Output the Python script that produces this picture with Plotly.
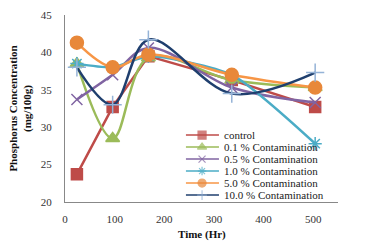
import plotly.graph_objects as go

time_hr = [24, 96, 168, 336, 504]
control = [23.7, 32.7, 39.5, 36.3, 32.7]
c01 = [38.5, 28.5, 39.3, 36.3, 35.3]
c05 = [33.7, 37.0, 40.6, 35.3, 33.3]
c10 = [38.5, 38.0, 39.5, 37.0, 27.8]
c50 = [41.3, 38.0, 39.7, 37.0, 35.3]
c100 = [38.0, 33.0, 41.7, 34.5, 37.3]

names = ["control", "0.1 % Contamination", "0.5 % Contamination",
         "1.0 % Contamination", "5.0 % Contamination", "10.0 % Contamination"]

series = [
    (control, "#BE4B48", "#BE4B48", "square", 11, "linear", 1.0),
    (c01, "#9BBB59", "#9BBB59", "triangle-up", 12, "spline", 1.0),
    (c05, "#8064A2", "#8064A2", "x-thin", 11, "spline", 1.0),
    (c10, "#4BACC6", "#4BACC6", "asterisk", 11, "spline", 0.6),
    (c50, "#F79646", "#E8883A", "circle", 13, "spline", 1.0),
    (c100, "#1F3F6E", "#95B3D7", "cross-thin", 13, "spline", 1.0),
]

font = "Liberation Serif"
fig = go.Figure()
for (vals, lc, mc, sym, sz, shape, sm), name in zip(series, names):
    line = dict(color=lc, width=2.5, shape=shape)
    if shape == "spline":
        line["smoothing"] = sm
    fig.add_trace(go.Scatter(
        x=time_hr, y=vals, name=name, mode="lines+markers",
        line=line, showlegend=False,
        marker=dict(symbol=sym, size=sz, color=mc,
                    line=dict(color=mc, width=1.5)),
    ))

# compact custom legend (layout positions in paper fractions)
lx0, lxm, lx1, ltx = 0.443, 0.502, 0.564, 0.575
ly0, lstep = 0.358, 0.0642
for i, ((vals, lc, mc, sym, sz, shape, sm), name) in enumerate(zip(series, names)):
    yy = ly0 - i * lstep
    fig.add_trace(go.Scatter(
        x=[lx0, lxm, lx1], y=[yy, yy, yy], xaxis="x2", yaxis="y2",
        mode="lines+markers", showlegend=False, hoverinfo="skip",
        line=dict(color=lc, width=1.5),
        marker=dict(symbol=sym, size=[0, 8 if sym not in ("cross-thin", "x-thin", "asterisk") else 7, 0],
                    color=mc, line=dict(color=mc, width=1.2)),
    ))
    fig.add_annotation(x=ltx, y=yy, xref="x2 domain", yref="y2 domain",
                       text=name, showarrow=False, xanchor="left", yanchor="middle",
                       font=dict(family=font, size=11, color="#222222"))

# x-axis title placed close to the tick labels, as in the reference
fig.add_annotation(x=0.5, y=-0.172, xref="paper", yref="paper",
                   text="<b>Time (Hr)</b>", showarrow=False,
                   xanchor="center", yanchor="middle",
                   font=dict(family=font, size=11, color="#111"))

fig.update_layout(
    width=365, height=247,
    margin=dict(l=65, r=27, t=15, b=45),
    paper_bgcolor="white", plot_bgcolor="white",
    font=dict(family=font, size=11, color="#333333"),
    showlegend=False,
    xaxis=dict(range=[0, 550], tickvals=[0, 100, 200, 300, 400, 500],
               showgrid=False, zeroline=False, showline=True, automargin=False,
               linecolor="#888888", linewidth=1,
               ticks="outside", ticklen=7, tickcolor="rgba(0,0,0,0)"),
    yaxis=dict(range=[20, 45], tickvals=[20, 25, 30, 35, 40, 45],
               showgrid=False, zeroline=False, showline=True, automargin=False,
               linecolor="#888888", linewidth=1,
               ticks="outside", ticklen=10, tickcolor="rgba(0,0,0,0)",
               title=dict(text="<b>Phosphorus Concentration<br>(mg/100g)</b>",
                          standoff=6, font=dict(family=font, size=11, color="#111"))),
    xaxis2=dict(range=[0, 1], overlaying="x", visible=False, fixedrange=True),
    yaxis2=dict(range=[0, 1], overlaying="y", visible=False, fixedrange=True),
)

fig.write_html("out.html", config={"displayModeBar": False},
               post_script="document.body.style.margin='0';")
